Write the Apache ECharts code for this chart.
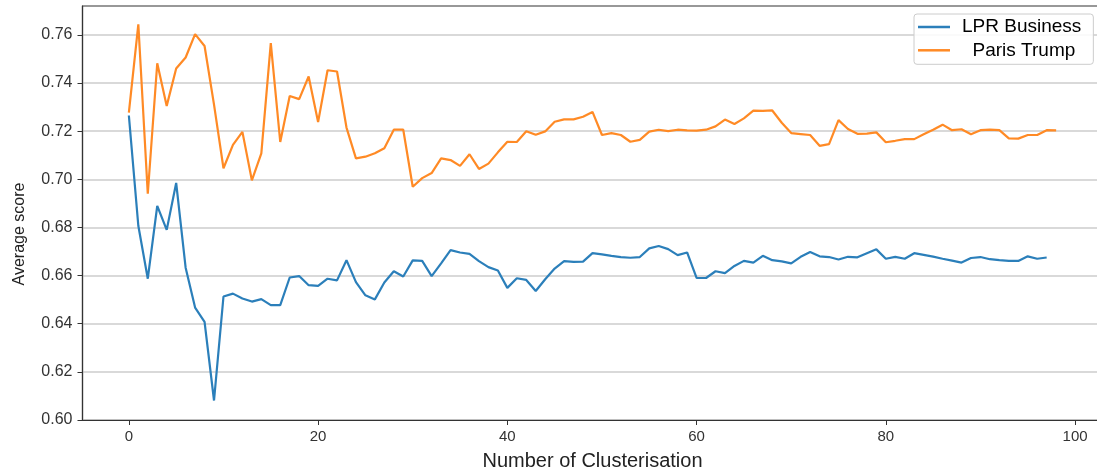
<!DOCTYPE html>
<html>
<head>
<meta charset="utf-8">
<script src="https://cdn.jsdelivr.net/npm/echarts@6/dist/echarts.min.js"></script>
<style>
  html, body { margin: 0; padding: 0; background: #ffffff; }
  #chart { width: 1097px; height: 472px; }
</style>
</head>
<body>
<div id="chart"></div>
<script>
const seriesNames = ['LPR Business', '  Paris Trump'];
const xTickValues = [0, 20, 40, 60, 80, 100];
const yTickValues = [0.60, 0.62, 0.64, 0.66, 0.68, 0.70, 0.72, 0.74, 0.76];

const lprBusiness = [
  0.7265, 0.6807, 0.6587, 0.6890, 0.6790, 0.6985, 0.6633, 0.6467, 0.6408, 0.6081,
  0.6513, 0.6525, 0.6505, 0.6492, 0.6502, 0.6477, 0.6477, 0.6592, 0.6598, 0.6560,
  0.6557, 0.6587, 0.6580, 0.6664, 0.6573, 0.6518, 0.6501, 0.6571, 0.6618, 0.6596,
  0.6663, 0.6661, 0.6598, 0.6651, 0.6706, 0.6696, 0.6690, 0.6660, 0.6635, 0.6621,
  0.6549, 0.6589, 0.6582, 0.6536, 0.6585, 0.6629, 0.6660, 0.6657, 0.6658, 0.6693,
  0.6688, 0.6682, 0.6677, 0.6674, 0.6677, 0.6713, 0.6723, 0.6710, 0.6685, 0.6696,
  0.6590, 0.6590, 0.6618, 0.6610, 0.6640, 0.6661, 0.6654, 0.6682, 0.6664, 0.6659,
  0.6651, 0.6678, 0.6698, 0.6680, 0.6677, 0.6667, 0.6678, 0.6676, 0.6693, 0.6709,
  0.6670, 0.6678, 0.6670, 0.6693, 0.6686, 0.6679, 0.6670, 0.6662, 0.6654, 0.6673,
  0.6677, 0.6668, 0.6664, 0.6661, 0.6661, 0.6680, 0.6670, 0.6675
];

const parisTrump = [
  0.7277, 0.7644, 0.6940, 0.7482, 0.7305, 0.7460, 0.7506, 0.7603, 0.7554, 0.7310,
  0.7046, 0.7143, 0.7197, 0.6996, 0.7108, 0.7566, 0.7155, 0.7346, 0.7333, 0.7427,
  0.7238, 0.7453, 0.7448, 0.7215, 0.7087, 0.7094, 0.7108, 0.7129, 0.7206, 0.7206,
  0.6969, 0.7005, 0.7026, 0.7087, 0.7080, 0.7056, 0.7104, 0.7043, 0.7065, 0.7112,
  0.7156, 0.7155, 0.7200, 0.7185, 0.7199, 0.7239, 0.7249, 0.7249, 0.7260, 0.7280,
  0.7184, 0.7192, 0.7184, 0.7156, 0.7164, 0.7198, 0.7206, 0.7200, 0.7206, 0.7203,
  0.7202, 0.7206, 0.7220, 0.7248, 0.7230, 0.7253, 0.7285, 0.7284, 0.7286, 0.7235,
  0.7192, 0.7188, 0.7184, 0.7139, 0.7146, 0.7246, 0.7209, 0.7189, 0.7190, 0.7195,
  0.7154, 0.7160, 0.7167, 0.7167, 0.7187, 0.7206, 0.7227, 0.7204, 0.7208, 0.7187,
  0.7204, 0.7206, 0.7204, 0.7170, 0.7169, 0.7184, 0.7184, 0.7204, 0.7203
];

const FONT = 'Liberation Sans, Arial, sans-serif';
const chart = echarts.init(document.getElementById('chart'), null, { renderer: 'canvas' });

const toPairs = arr => arr.map((v, i) => [i, v]);

chart.setOption({
  backgroundColor: '#ffffff',
  animation: false,
  grid: {
    left: 82.5, top: 6, width: 1020, height: 414,
    show: true, borderColor: '#333333', borderWidth: 1.2,
    containLabel: false,
    outerBoundsMode: 'none'
  },
  legend: {
    orient: 'vertical',
    left: 914, top: 14,
    padding: [3, 12, 4, 4],
    itemGap: 3.3,
    itemWidth: 32, itemHeight: 2.5,
    icon: 'rect',
    backgroundColor: 'rgba(255,255,255,0.85)',
    borderColor: '#cccccc', borderWidth: 1, borderRadius: 3,
    textStyle: { fontFamily: FONT, fontSize: 19, color: '#000000', lineHeight: 20, padding: [0, 0, 0, 7] },
    data: seriesNames
  },
  xAxis: {
    type: 'value',
    min: -4.9, max: 102.9,
    name: 'Number of Clusterisation',
    nameLocation: 'middle',
    nameGap: 31,
    nameTextStyle: { fontFamily: FONT, fontSize: 20, color: '#222222' },
    axisLine: { show: true, onZero: false, lineStyle: { color: '#333333', width: 1.2 } },
    axisTick: { show: true, length: 5, customValues: xTickValues, lineStyle: { color: '#333333' } },
    axisLabel: { customValues: xTickValues, margin: 9, fontFamily: FONT, fontSize: 15, color: '#333333' },
    splitLine: { show: false }
  },
  yAxis: {
    type: 'value',
    min: 0.6, max: 0.772, interval: 0.02,
    name: 'Average score',
    nameLocation: 'middle',
    nameGap: 55,
    nameTextStyle: { fontFamily: FONT, fontSize: 16, color: '#222222', padding: [0, 42, 0, 0] },
    axisLine: { show: true, onZero: false, lineStyle: { color: '#333333', width: 1.2 } },
    axisTick: { show: true, length: 5, customValues: yTickValues, lineStyle: { color: '#333333' } },
    axisLabel: {
      customValues: yTickValues, margin: 10, fontFamily: FONT, fontSize: 16, color: '#333333',
      formatter: v => Number(v).toFixed(2)
    },
    splitLine: { show: true, lineStyle: { color: '#cccccc', width: 1.5 } }
  },
  series: [
    {
      name: seriesNames[0], type: 'line', data: toPairs(lprBusiness),
      showSymbol: false, symbol: 'none',
      lineStyle: { color: '#2b7fba', width: 2.2 },
      itemStyle: { color: '#2b7fba' }
    },
    {
      name: seriesNames[1], type: 'line', data: toPairs(parisTrump),
      showSymbol: false, symbol: 'none',
      lineStyle: { color: '#ff8a25', width: 2.2 },
      itemStyle: { color: '#ff8a25' }
    }
  ]
});
</script>
</body>
</html>
